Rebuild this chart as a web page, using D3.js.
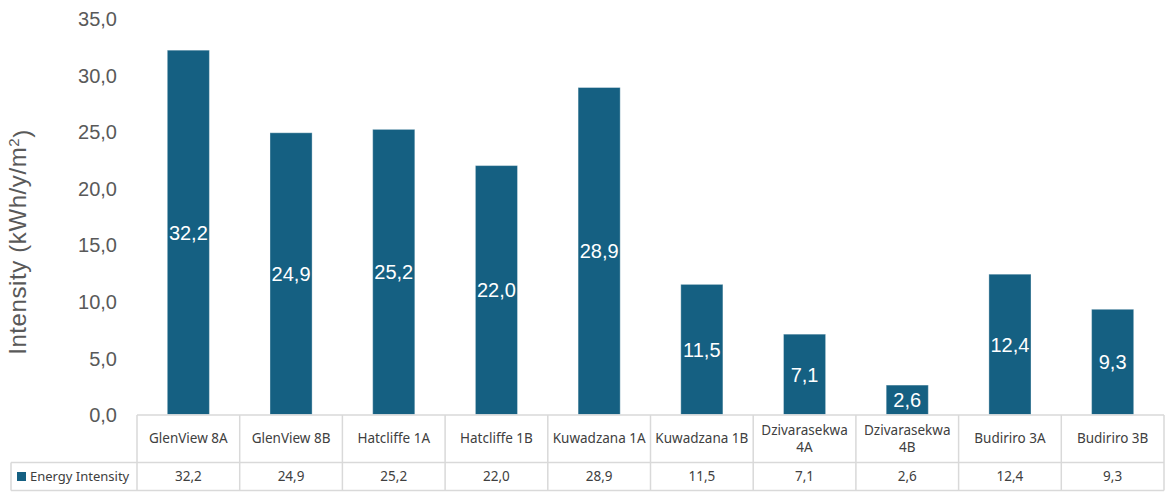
<!DOCTYPE html>
<html>
<head>
<meta charset="utf-8">
<script src="https://cdn.jsdelivr.net/npm/d3@7"></script>
<style>
  html, body { margin: 0; padding: 0; background: #fff; }
  svg { display: block; }
</style>
</head>
<body>
<svg id="chart" width="1165" height="493"></svg>
<script>
// Energy intensity per site (kWh/y/m²)
const categories = [
  ["GlenView 8A"], ["GlenView 8B"], ["Hatcliffe 1A"], ["Hatcliffe 1B"],
  ["Kuwadzana 1A"], ["Kuwadzana 1B"], ["Dzivarasekwa", "4A"],
  ["Dzivarasekwa", "4B"], ["Budiriro 3A"], ["Budiriro 3B"]
];
const energyIntensity = [32.2, 24.9, 25.2, 22.0, 28.9, 11.5, 7.1, 2.6, 12.4, 9.3];
const yTicks = [0, 5, 10, 15, 20, 25, 30, 35];
const seriesName = "Energy Intensity";
const axisTitle = "Intensity (kWh/y/m";

const W = 1165, H = 493;
const plot = { left: 137, right: 1164, top: 18.5, bottom: 414.5 };
const table = { top: 415, mid: 462.5, bottom: 490.5, legendLeft: 11 };
const barColor = "#156082";
const gridColor = "#d9d9d9";
const fmt = v => d3.format(".1f")(v).replace(".", ",");

const svg = d3.select("#chart");

const x = d3.scaleBand()
  .domain(d3.range(categories.length))
  .range([plot.left, plot.right])
  .paddingInner(0).paddingOuter(0);

const y = d3.scaleLinear().domain([0, 35]).range([plot.bottom, plot.top]);

const barW = x.bandwidth() * 0.41;

// Bars
svg.append("g").selectAll("rect")
  .data(energyIntensity)
  .join("rect")
  .attr("x", (d, i) => x(i) + (x.bandwidth() - barW) / 2)
  .attr("y", d => y(d))
  .attr("width", barW)
  .attr("height", d => y(0) - y(d))
  .attr("fill", barColor)
  .attr("stroke", "#ffffff")
  .attr("stroke-opacity", 0.35)
  .attr("stroke-width", 1);

// Value labels centred in each bar
svg.append("g").selectAll("text")
  .data(energyIntensity)
  .join("text")
  .attr("x", (d, i) => x(i) + x.bandwidth() / 2)
  .attr("y", d => (y(d) + y(0)) / 2)
  .attr("dy", "0.36em")
  .attr("text-anchor", "middle")
  .attr("fill", "#ffffff")
  .style("font-family", "'Liberation Sans', Arial, sans-serif")
  .style("font-size", "20px")
  .text(d => fmt(d));

// Y axis tick labels
const yAxis = d3.axisLeft(y).tickValues(yTicks).tickFormat(fmt).tickSize(0).tickPadding(0);
const gy = svg.append("g").attr("transform", "translate(117,0)").call(yAxis);
gy.select(".domain").remove();
gy.selectAll("text")
  .attr("fill", "#595959")
  .attr("dy", "0.36em")
  .style("font-family", "'Liberation Sans', Arial, sans-serif")
  .style("font-size", "20px");

// Y axis title
const title = svg.append("text")
  .attr("transform", `translate(26,242) rotate(-90)`)
  .attr("text-anchor", "middle")
  .attr("fill", "#595959")
  .style("font-family", "'Liberation Sans', Arial, sans-serif")
  .style("font-size", "24px")
  .style("letter-spacing", "0.6px");
title.append("tspan").text(axisTitle);
title.append("tspan").attr("dy", "-0.45em").style("font-size", "15px").text("2");
title.append("tspan").attr("dy", "0.45em").text(")");

// Data table beneath the plot
const tg = svg.append("g");
const line = (x1, y1, x2, y2) => tg.append("line")
  .attr("x1", x1).attr("y1", y1).attr("x2", x2).attr("y2", y2)
  .attr("stroke", gridColor).attr("stroke-width", 1.5);

line(plot.left, table.top, plot.right, table.top);
line(table.legendLeft, table.mid, plot.right, table.mid);
line(table.legendLeft, table.bottom, plot.right, table.bottom);
line(table.legendLeft, table.mid, table.legendLeft, table.bottom);
d3.range(categories.length + 1).forEach(i => {
  const xx = i < categories.length ? x(i) : plot.right;
  line(xx, table.top, xx, table.bottom);
});

const cellFont = "'Noto Sans', 'Open Sans', sans-serif";

// Category labels
tg.selectAll("text.cat")
  .data(categories)
  .join("text")
  .attr("class", "cat")
  .attr("text-anchor", "middle")
  .attr("fill", "#404040")
  .style("font-family", cellFont)
  .style("font-size", "13.5px")
  .each(function (lines, i) {
    const t = d3.select(this);
    const cx = x(i) + x.bandwidth() / 2;
    const cy = (table.top + table.mid) / 2;
    const start = cy - (lines.length - 1) * 8.5;
    lines.forEach((l, k) => {
      t.append("tspan").attr("x", cx).attr("y", start + k * 17).attr("dy", "0.35em").text(l);
    });
  });

// Series values row
tg.selectAll("text.val")
  .data(energyIntensity)
  .join("text")
  .attr("class", "val")
  .attr("x", (d, i) => x(i) + x.bandwidth() / 2)
  .attr("y", (table.mid + table.bottom) / 2)
  .attr("dy", "0.35em")
  .attr("text-anchor", "middle")
  .attr("fill", "#404040")
  .style("font-family", cellFont)
  .style("font-size", "13.5px")
  .text(d => fmt(d));

// Legend key + series name
const ly = (table.mid + table.bottom) / 2;
tg.append("rect")
  .attr("x", 17).attr("y", ly - 4.5).attr("width", 9).attr("height", 9)
  .attr("fill", barColor);
tg.append("text")
  .attr("x", 30).attr("y", ly).attr("dy", "0.35em")
  .attr("fill", "#404040")
  .style("font-family", cellFont)
  .style("font-size", "13px")
  .text(seriesName);
</script>
</body>
</html>
